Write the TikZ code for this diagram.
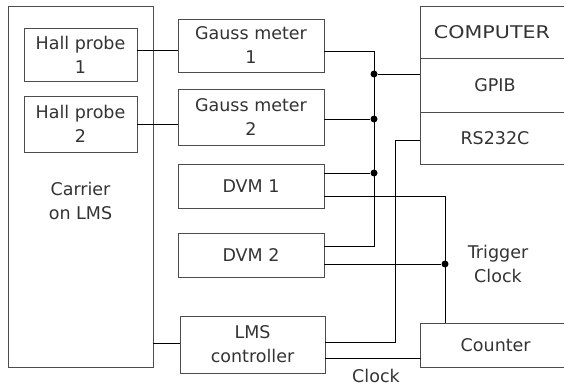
\documentclass[tikz,border=0pt]{standalone}
\usepackage{fontspec}
\setmainfont{DejaVu Sans}
\begin{document}
\begin{tikzpicture}[x=1pt,y=-1pt,
  box/.style={draw=black!70,line width=0.9pt,rectangle,inner sep=0pt,outer sep=0pt,anchor=north west,align=center,text=black!80,font=\fontsize{17.5}{24}\selectfont},
  lbl/.style={inner sep=0pt,align=center,text=black!80,font=\fontsize{17.5}{24}\selectfont},
  wire/.style={draw=black,line width=0.9pt},
  dot/.style={circle,fill=black,inner sep=0pt,minimum size=7pt}]
\useasboundingbox (0,0) rectangle (564,387);
\clip (0,0) rectangle (564,387);
% boxes
\node[box,minimum width=145pt,minimum height=361pt] (carrier) at (8,6) {};
\node[lbl] (carriertext) at (80.5,201) {Carrier\\on LMS};
\node[box,minimum width=113pt,minimum height=53pt] (hp1) at (24,28) {Hall probe\\1};
\node[box,minimum width=113pt,minimum height=56pt] (hp2) at (24,96) {Hall probe\\2};
\node[box,minimum width=146pt,minimum height=53pt] (gm1) at (178,19) {Gauss meter\\1};
\node[box,minimum width=146pt,minimum height=56pt] (gm2) at (178,89) {Gauss meter\\2};
\node[box,minimum width=146pt,minimum height=44pt] (dvm1) at (178,164) {DVM 1};
\node[box,minimum width=146pt,minimum height=44pt] (dvm2) at (178,233) {DVM 2};
\node[box,minimum width=145pt,minimum height=57pt] (lms) at (180,316) {LMS\\controller};
\node[box,minimum width=144pt,minimum height=52pt] (comp) at (420,6) {\scalebox{1.18}[1]{COMPUTER}};
\node[box,minimum width=150pt,minimum height=54pt] (gpib) at (420,58) {GPIB};
\node[box,minimum width=150pt,minimum height=52pt] (rs) at (420,112) {RS232C};
\node[box,minimum width=150pt,minimum height=44pt] (counter) at (420.7,323) {Counter};
\draw[draw=black!70,line width=0.9pt] (comp.north east) -- +(10,0);
\node[lbl] (trig) at (498,264) {Trigger\\Clock};
\node[lbl] (clk) at (376,376) {Clock};
% bus junctions
\coordinate (bustop) at (374,51);
\coordinate (busbot) at (374,246);
\node[dot] (j1) at (374,74) {};
\node[dot] (j2) at (374,119) {};
\node[dot] (j3) at (374,173) {};
\coordinate (rscorner) at (395,342);
\coordinate (trigtop) at (445,196.5);
\node[dot] (j4) at (445,264) {};
% wires
\draw[wire] ([yshift=4pt]hp1.east) -- ([yshift=4pt]hp1.east -| gm1.west);
\draw[wire] (hp2.east) -- (hp2.east -| gm2.west);
\draw[wire] ([yshift=1.5pt]lms.west -| carrier.east) -- ([yshift=1.5pt]lms.west);
\draw[wire] (gm1.east |- bustop) -- (bustop) -- (busbot) -- (busbot -| dvm2.east);
\draw[wire] (j2 -| gm2.east) -- (j2);
\draw[wire] (j3 -| dvm1.east) -- (j3);
\draw[wire] (j1) -- (j1 -| gpib.west);
\draw[wire] ([yshift=-2pt]rs.west) -| (rscorner) -- (rscorner -| lms.east);
\draw[wire] (trigtop -| dvm1.east) -- (trigtop) -- (trigtop |- counter.north);
\draw[wire] (j4 -| dvm2.east) -- (j4);
\draw[wire] ([yshift=-14pt]lms.east) -- ([yshift=-14pt]lms.east -| counter.west);
\end{tikzpicture}
\end{document}
